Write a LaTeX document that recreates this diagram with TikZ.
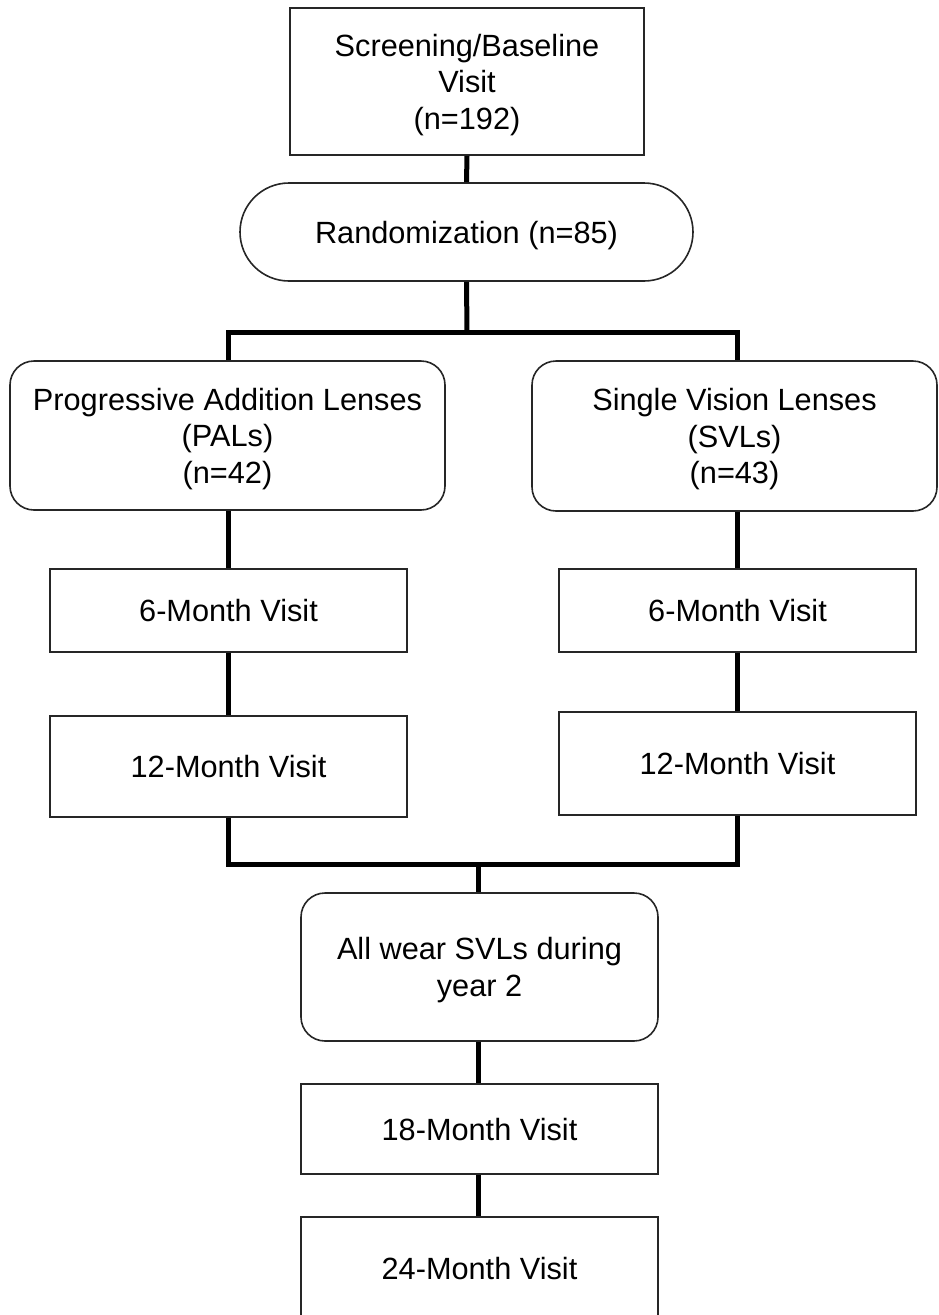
\documentclass[tikz,border=0pt]{standalone}
\usepackage{fontspec}
\setmainfont{Liberation Sans}
\begin{document}
\begin{tikzpicture}[x=1pt,y=-1pt,
  box/.style={draw=black!85,line width=1.6pt,fill=white,inner sep=0pt,align=center,
    text depth=0pt,font=\fontsize{30.7}{36.5}\selectfont},
  rbox/.style={box,rounded corners=24pt},
  conn/.style={line width=5pt,line join=miter}]
\useasboundingbox (0,0) rectangle (938,1315);
\node[box,minimum width=354pt,minimum height=147pt] (top) at (467,81.5) {Screening/Baseline\\Visit\\(n=192)};
\node[box,rounded corners=49pt,minimum width=453pt,minimum height=98pt] (rand) at (466.5,232) {Randomization (n=85)};
\node[rbox,minimum width=435pt,minimum height=149pt] (pal) at (227.5,435.5) {Progressive Addition Lenses\\(PALs)\\(n=42)};
\node[rbox,minimum width=405pt,minimum height=150pt] (svl) at (734.5,436) {Single Vision Lenses\\(SVLs)\\(n=43)};
\node[box,minimum width=357pt,minimum height=83pt] (l6) at (228.5,610.5) {6-Month Visit};
\node[box,minimum width=357pt,minimum height=101pt] (l12) at (228.5,766.5) {12-Month Visit};
\node[box,minimum width=357pt,minimum height=83pt] (r6) at (737.5,610.5) {6-Month Visit};
\node[box,minimum width=357pt,minimum height=103pt] (r12) at (737.5,763.5) {12-Month Visit};
\node[rbox,minimum width=357pt,minimum height=148pt] (all) at (479.5,967) {All wear SVLs during\\year 2};
\node[box,minimum width=357pt,minimum height=90pt] (m18) at (479.5,1129) {18-Month Visit};
\node[box,minimum width=357pt,minimum height=102pt] (m24) at (479.5,1268) {24-Month Visit};
\coordinate (sp) at (467,332);
\coordinate (jl) at (228,332);
\coordinate (jr) at (737.5,332);
\coordinate (ml) at (228,864);
\coordinate (mr) at (737.5,864);
\coordinate (mc) at (478,864);
\draw[conn] (top.south) -- (rand.north);
\draw[conn] (rand.south) -- (sp);
\draw[conn] (jl |- pal.north) -- (jl) -- (jr) -- (jr |- svl.north);
\draw[conn] (jl |- pal.south) -- (jl |- l6.north);
\draw[conn] (jl |- l6.south) -- (jl |- l12.north);
\draw[conn] (jr |- svl.south) -- (jr |- r6.north);
\draw[conn] (mr |- r6.south) -- (mr |- r12.north);
\draw[conn] (ml |- l12.south) -- (ml) -- (mr) -- (mr |- r12.south);
\draw[conn] (mc) -- (mc |- all.north);
\draw[conn] (mc |- all.south) -- (mc |- m18.north);
\draw[conn] (mc |- m18.south) -- (mc |- m24.north);
\end{tikzpicture}
\end{document}
